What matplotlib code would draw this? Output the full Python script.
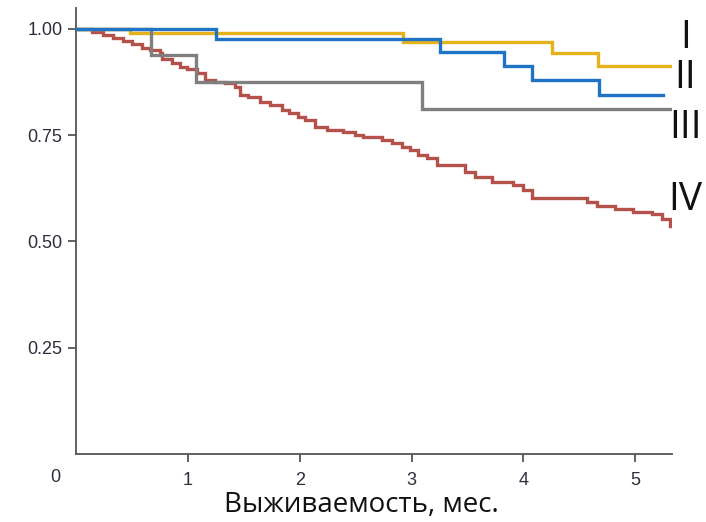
import numpy as np
import matplotlib
matplotlib.use("Agg")
import matplotlib.pyplot as plt

# Kaplan-Meier curves by stage (time in months, survival fraction)
t_I = [0, 0.48, 2.92, 4.26, 4.67]
s_I = [1.0, 0.99, 0.969, 0.944, 0.913]
end_I = 5.34

t_II = [0, 1.25, 3.25, 3.83, 4.08, 4.68]
s_II = [1.0, 0.976, 0.946, 0.913, 0.88, 0.845]
end_II = 5.25

t_III = [0, 0.67, 1.07, 3.09]
s_III = [1.0, 0.9375, 0.875, 0.8125]
end_III = 5.34

t_IV = [0, 0.141, 0.239, 0.329, 0.418, 0.499, 0.589, 0.660, 0.749, 0.767,
        0.857, 0.927, 0.990, 1.080, 1.151, 1.241, 1.330, 1.420, 1.465, 1.537,
        1.644, 1.734, 1.841, 1.904, 1.984, 2.047, 2.136, 2.244, 2.387, 2.494,
        2.566, 2.736, 2.826, 2.915, 2.987, 3.058, 3.139, 3.228, 3.479, 3.568,
        3.720, 3.908, 3.997, 4.078, 4.570, 4.660, 4.821, 4.982, 5.152, 5.241,
        5.313]
s_IV = [1.0, 0.993, 0.986, 0.979, 0.972, 0.965, 0.955, 0.951, 0.944, 0.929,
        0.920, 0.911, 0.906, 0.896, 0.880, 0.875, 0.873, 0.864, 0.845, 0.840,
        0.828, 0.821, 0.809, 0.802, 0.793, 0.786, 0.769, 0.762, 0.758, 0.751,
        0.746, 0.739, 0.732, 0.722, 0.715, 0.704, 0.696, 0.680, 0.664, 0.652,
        0.640, 0.633, 0.621, 0.602, 0.593, 0.584, 0.576, 0.569, 0.565, 0.553,
        0.536]
end_IV = 5.33

stage_labels = ["I", "II", "III", "IV"]
label_y = [0.979, 0.885, 0.767, 0.598]

x_ticks = [1, 2, 3, 4, 5]
y_ticks = [0.25, 0.50, 0.75, 1.00]
y_ticklabels = ["0.25", "0.50", "0.75", "1.00"]

fig = plt.figure(figsize=(7.06, 5.22), dpi=100)
ax = fig.add_axes([0.108, 0.1303, 0.844, 0.855])

def km(ax, t, s, end, color, z):
    tt = list(t) + [end]
    ss = list(s) + [s[-1]]
    ax.step(tt, ss, where="post", color=color, lw=2.4, zorder=z,
            solid_joinstyle="miter")

km(ax, t_IV, s_IV, end_IV, "#b5514b", 2)
km(ax, t_I, s_I, end_I, "#e6b21c", 3)
km(ax, t_III, s_III, end_III, "#7f7f7f", 4)
km(ax, t_II, s_II, end_II, "#1f74c6", 5)

ax.set_xlim(0, 5.33)
ax.set_ylim(0, 1.05)

for sp in ["top", "right"]:
    ax.spines[sp].set_visible(False)
for sp in ["left", "bottom"]:
    ax.spines[sp].set_color("#555555")
    ax.spines[sp].set_linewidth(1.3)

tick_font = ["Liberation Sans Narrow", "Liberation Sans", "DejaVu Sans"]
ax.set_xticks(x_ticks)
ax.set_xticklabels([str(v) for v in x_ticks], fontsize=13,
                   family=tick_font, color="#2e2e3c")
ax.set_yticks(y_ticks)
ax.set_yticklabels(y_ticklabels, fontsize=13, family=tick_font,
                   color="#2e2e3c")
ax.tick_params(axis="both", direction="out", length=6, width=1.3,
               color="#555555")
ax.tick_params(axis="x", pad=7)
ax.tick_params(axis="y", pad=4)

# shared origin label in the corner
ax.text(-0.19, -0.055, "0", transform=ax.transData, fontsize=13,
        family=tick_font, color="#2e2e3c", ha="center", va="center",
        clip_on=False)

ax.set_xlabel("Выживаемость, мес.", fontsize=20, family=["Open Sans", "DejaVu Sans"],
              color="#111111")
ax.xaxis.set_label_coords(0.478, -0.082)

for lab, yv in zip(stage_labels, label_y):
    ax.text(5.447, yv, lab, fontsize=28, family=["Open Sans", "DejaVu Sans"],
            color="#111111", ha="center", va="center", clip_on=False)

fig.savefig("out.png", dpi=100)
